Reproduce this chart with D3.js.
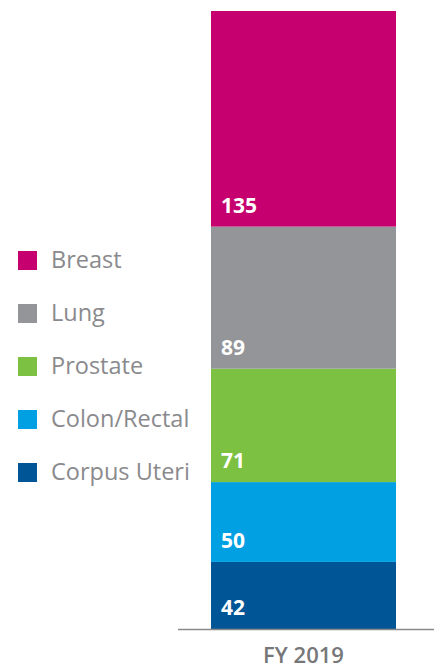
<!DOCTYPE html>
<html>
<head>
    <script src="https://d3js.org/d3.v7.min.js"></script>
    <style>
        body { margin: 0; background: #fff; }
        text { font-family: "Open Sans", sans-serif; }
    </style>
</head>
<body>
    <div id="chart"></div>
    <script>
        // data
        var categories = ["Breast", "Lung", "Prostate", "Colon/Rectal", "Corpus Uteri"];
        var values = [135, 89, 71, 50, 42];
        var colors = ["#c6006e", "#939598", "#7dc142", "#00a0e3", "#005596"];
        var years = ["FY 2019"];

        var width = 436, height = 669;

        var svg = d3.select("#chart")
            .append("svg")
            .attr("width", width)
            .attr("height", height);

        // stack from the bottom: last category sits on the axis
        var stacked = [];
        var run = 0;
        for (var i = categories.length - 1; i >= 0; i--) {
            stacked.push({ name: categories[i], value: values[i], color: colors[i], y0: run, y1: run + values[i] });
            run += values[i];
        }

        var y = d3.scaleLinear()
            .domain([0, d3.sum(values)])
            .range([629, 11]);

        var x = d3.scaleBand()
            .domain(years)
            .range([211, 396])
            .padding(0);

        // bars
        svg.append("g")
            .selectAll("rect")
            .data(stacked)
            .enter()
            .append("rect")
            .attr("x", x("FY 2019"))
            .attr("width", x.bandwidth())
            .attr("y", function (d) { return y(d.y1); })
            .attr("height", function (d) { return y(d.y0) - y(d.y1); })
            .style("fill", function (d) { return d.color; });

        // value labels
        svg.append("g")
            .selectAll("text")
            .data(stacked)
            .enter()
            .append("text")
            .attr("x", x("FY 2019") + 10)
            .attr("y", function (d) { return y(d.y0) - 14; })
            .style("fill", "#fff")
            .style("font-size", "21px")
            .style("font-weight", "bold")
            .text(function (d) { return d.value; });

        // axis line
        svg.append("line")
            .attr("x1", 178)
            .attr("x2", 434)
            .attr("y1", y(0) + 0.5)
            .attr("y2", y(0) + 0.5)
            .style("stroke", "#8a8a8d")
            .style("stroke-width", 1.5);

        svg.append("text")
            .attr("x", x("FY 2019") + x.bandwidth() / 2)
            .attr("y", 663)
            .attr("text-anchor", "middle")
            .style("fill", "#77777a")
            .style("font-size", "22px")
            .style("font-weight", "600")
            .text(years[0]);

        // legend
        var legend = svg.selectAll(".legend")
            .data(categories)
            .enter().append("g")
            .attr("class", "legend")
            .attr("transform", function (d, i) { return "translate(18," + (260 + i * 53) + ")"; });

        legend.append("rect")
            .attr("x", 0)
            .attr("y", -9)
            .attr("width", 19)
            .attr("height", 19)
            .style("fill", function (d, i) { return colors[i]; });

        legend.append("text")
            .attr("x", 33)
            .attr("y", 8)
            .style("fill", "#8a8a8d")
            .style("font-size", "23.5px")
            .text(function (d) { return d; });
    </script>
</body>
</html>
